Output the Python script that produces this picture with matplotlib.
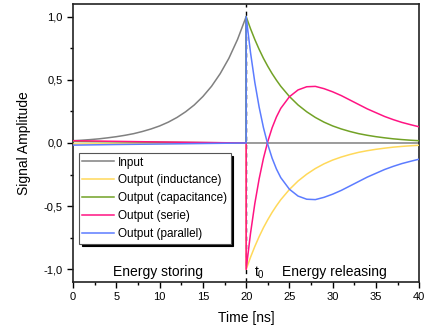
import matplotlib
matplotlib.use("Agg")
import matplotlib.pyplot as plt
from matplotlib.ticker import MultipleLocator, FuncFormatter

plt.rcParams['font.family'] = ['Liberation Sans', 'DejaVu Sans']

# time axis in ns
t_store = [0, 1, 2, 3, 4, 5, 6, 7, 8, 9, 10, 11, 12, 13, 14, 15, 16, 17, 18, 19, 20]
t_pre = [0, 5, 10, 15, 20]
t_release = [20, 20.5, 21, 21.5, 22, 22.5, 23, 23.5, 24, 25, 26, 27, 28, 29, 30,
             31, 32, 33, 34, 35, 36, 37, 38, 39, 40]
t_input_off = [20, 40]

# input pulse (energy storing), then off
input_store = [0.018, 0.022, 0.027, 0.033, 0.041, 0.050, 0.061, 0.074, 0.091, 0.111,
               0.135, 0.165, 0.202, 0.247, 0.301, 0.368, 0.449, 0.549, 0.670, 0.819, 1.0]
input_off = [0.0, 0.0]

# outputs before t0 (small residuals)
ind_pre = [-0.008, -0.006, -0.004, -0.002, 0.0]
cap_pre = [0.012, 0.009, 0.006, 0.003, 0.0]
ser_pre = [0.018, 0.013, 0.008, 0.004, 0.0]
par_pre = [-0.017, -0.012, -0.008, -0.004, 0.0]

# outputs after t0 (energy releasing)
ind_rel = [-1.0, -0.905, -0.819, -0.741, -0.670, -0.607, -0.549, -0.497, -0.449, -0.368,
           -0.301, -0.247, -0.202, -0.165, -0.135, -0.111, -0.091, -0.074, -0.061, -0.050,
           -0.041, -0.033, -0.027, -0.022, -0.018]
cap_rel = [1.0, 0.905, 0.819, 0.741, 0.670, 0.607, 0.549, 0.497, 0.449, 0.368,
           0.301, 0.247, 0.202, 0.165, 0.135, 0.111, 0.091, 0.074, 0.061, 0.050,
           0.041, 0.033, 0.027, 0.022, 0.018]
ser_rel = [-1.0, -0.717, -0.480, -0.284, -0.121, 0.012, 0.120, 0.206, 0.274, 0.366,
           0.420, 0.445, 0.448, 0.430, 0.405, 0.375, 0.340, 0.305, 0.270, 0.240,
           0.210, 0.185, 0.163, 0.145, 0.128]
par_rel = [1.0, 0.717, 0.480, 0.284, 0.121, -0.012, -0.120, -0.206, -0.274, -0.366,
           -0.420, -0.445, -0.448, -0.430, -0.405, -0.375, -0.340, -0.305, -0.270, -0.240,
           -0.210, -0.185, -0.163, -0.145, -0.128]

labels = ['Input', 'Output (inductance)', 'Output (capacitance)',
          'Output (serie)', 'Output (parallel)']
colors = ['#808080', '#FFD95A', '#72A226', '#FF1483', '#5C7CFF']

fig = plt.figure(figsize=(4.33, 3.32), dpi=100)
ax = fig.add_axes([0.169, 0.1506, 0.799, 0.8374])

ax.axvline(20, color='black', ls=(0, (3, 3)), lw=1.0, zorder=1)

ax.plot(t_store + t_input_off, input_store + input_off, color=colors[0], lw=1.1, label=labels[0], zorder=2)
ax.plot(t_pre + t_release, ind_pre + ind_rel, color=colors[1], lw=1.1, label=labels[1], zorder=3)
ax.plot(t_pre + t_release, cap_pre + cap_rel, color=colors[2], lw=1.1, label=labels[2], zorder=4)
ax.plot(t_pre + t_release, ser_pre + ser_rel, color=colors[3], lw=1.1, label=labels[3], zorder=5)
ax.plot(t_pre + t_release, par_pre + par_rel, color=colors[4], lw=1.1, label=labels[4], zorder=6)

ax.set_xlim(0, 40)
ax.set_ylim(-1.1, 1.1)
ax.xaxis.set_major_locator(MultipleLocator(5))
ax.xaxis.set_minor_locator(MultipleLocator(2.5))
ax.yaxis.set_major_locator(MultipleLocator(0.5))
ax.yaxis.set_minor_locator(MultipleLocator(0.25))
ax.yaxis.set_major_formatter(FuncFormatter(lambda v, p: f"{v:.1f}".replace('.', ',')))
ax.tick_params(which='both', direction='out', top=False, right=False, labelsize=8, width=1)
ax.tick_params(which='major', length=4)
ax.tick_params(which='minor', length=2.5)
for s in ax.spines.values():
    s.set_linewidth(1.2)
    s.set_color('#222222')

ax.set_xlabel('Time [ns]', fontsize=10, labelpad=6)
ax.set_ylabel('Signal Amplitude', fontsize=10, labelpad=9)

ax.text(9.75, -1.055, 'Energy storing', fontsize=10, ha='center', va='baseline')
ax.text(24.1, -1.055, 'Energy releasing', fontsize=10, ha='left', va='baseline')
ax.text(20.9, -1.055, r'$\mathregular{t_0}$', fontsize=10, ha='left', va='baseline')

leg = ax.legend(loc='upper left', bbox_to_anchor=(0.0165, 0.464), fontsize=8.5,
                frameon=True, fancybox=False, shadow={'color': 'black', 'alpha': 1},
                handlelength=2.7, handletextpad=0.3, borderpad=0.3, labelspacing=0.5,
                borderaxespad=0)
leg.get_frame().set_edgecolor('#555555')
leg.get_frame().set_linewidth(0.8)
leg.get_frame().set_alpha(1)

fig.savefig('out.png', dpi=100)
